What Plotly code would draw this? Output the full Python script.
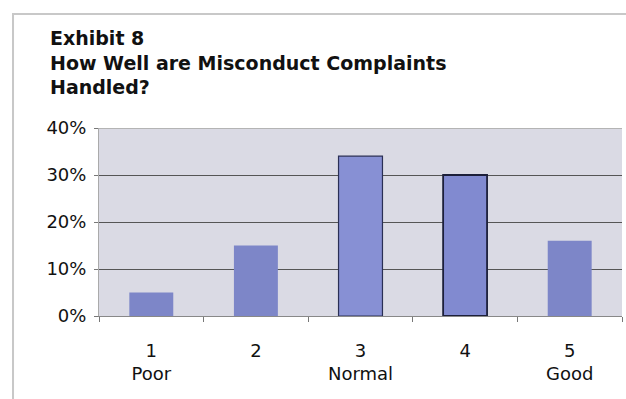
import plotly.graph_objects as go

ratings = ["1<br>Poor", "2", "3<br>Normal", "4", "5<br>Good"]
shares = [5, 15, 34, 30, 16]  # percent of respondents
tick_vals = [0, 10, 20, 30, 40]
tick_text = ["0%", "10%", "20%", "30%", "40%"]

bar_fill = ["#7d86c8", "#7d86c8", "#8790d4", "#818ad0", "#7d86c8"]
bar_edge = ["#7d86c8", "#7d86c8", "#2a2f55", "#1c1f3a", "#7d86c8"]
bar_edge_w = [0, 0, 1.2, 1.8, 0]

FONT = "DejaVu Sans, Arial, sans-serif"

fig = go.Figure(
    go.Bar(
        x=ratings,
        y=shares,
        width=0.42,
        marker=dict(color=bar_fill, line=dict(color=bar_edge, width=bar_edge_w)),
        hoverinfo="skip",
    )
)

fig.update_layout(
    width=626,
    height=399,
    margin=dict(l=99, r=4, t=128, b=83),
    paper_bgcolor="white",
    plot_bgcolor="#dadae4",
    showlegend=False,
    font=dict(family=FONT, color="#111111"),
)

fig.update_xaxes(
    type="category",
    tickfont=dict(size=18),
    ticks="outside",
    tickson="boundaries",
    ticklen=5,
    tickcolor="#777777",
    ticklabelstandoff=18,
    showline=True,
    linecolor="#888888",
    linewidth=1,
    showgrid=False,
)

fig.update_yaxes(
    range=[0, 40],
    tickvals=tick_vals,
    ticktext=tick_text,
    tickfont=dict(size=18),
    ticks="outside",
    ticklen=4,
    tickcolor="#777777",
    ticklabelstandoff=4,
    showgrid=True,
    gridcolor="#555555",
    gridwidth=1,
    zeroline=False,
    showline=True,
    linecolor="#aaaaaa",
)

# light frame around the chart region
fig.add_shape(
    type="rect", xref="paper", yref="paper",
    x0=-0.1644, x1=1.04, y0=-0.55, y1=1.606,
    line=dict(color="#c8c8c8", width=2), fillcolor="rgba(0,0,0,0)", layer="below",
)
# lighter top border of the plot area
fig.add_shape(
    type="line", xref="paper", yref="y",
    x0=0, x1=1, y0=40, y1=40,
    line=dict(color="#b4b4b4", width=2),
)

fig.add_annotation(
    xref="paper", yref="paper", x=-0.0975, y=1.55,
    xanchor="left", yanchor="top", align="left", showarrow=False,
    text="<b>Exhibit 8<br>How Well are Misconduct Complaints<br>Handled?</b>",
    font=dict(size=19, color="#111111"),
)

fig.write_html("out.html")
